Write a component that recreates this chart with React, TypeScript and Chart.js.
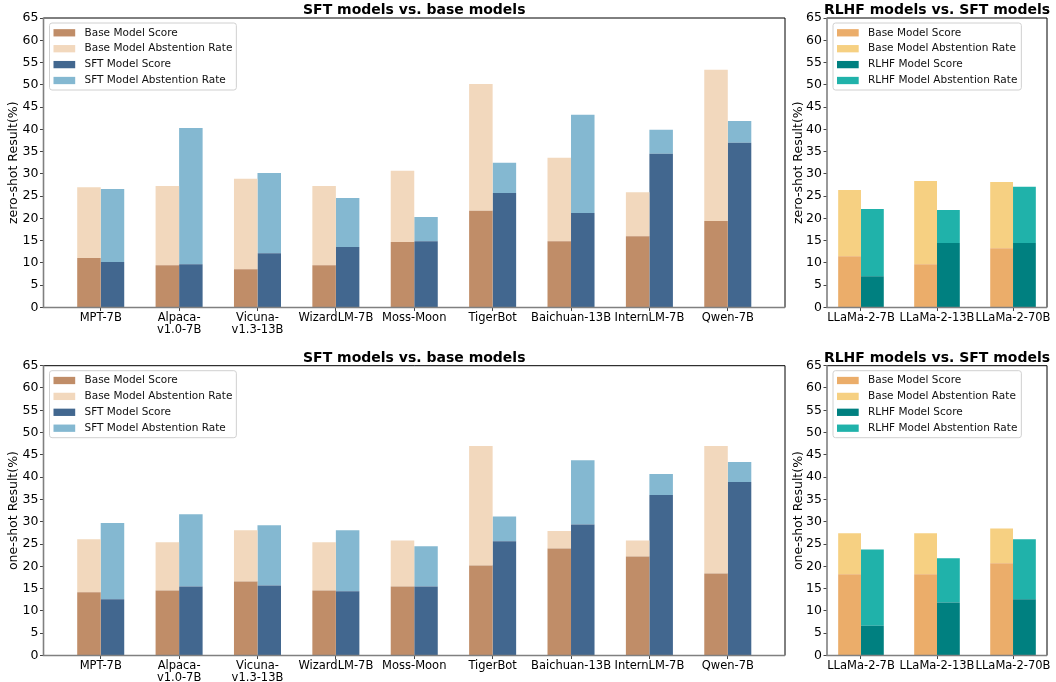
import React, { useEffect, useRef } from "react";
import { Chart, registerables } from "chart.js";

Chart.register(...registerables);
Chart.defaults.font.family = '"DejaVu Sans", sans-serif';

// ---------- categories ----------
const sftModels = [
  "MPT-7B",
  "Alpaca-\nv1.0-7B",
  "Vicuna-\nv1.3-13B",
  "WizardLM-7B",
  "Moss-Moon",
  "TigerBot",
  "Baichuan-13B",
  "InternLM-7B",
  "Qwen-7B",
];
const rlhfModels = ["LLaMa-2-7B", "LLaMa-2-13B", "LLaMa-2-70B"];
const yTickStep = 5;
const yMax = 65;

// ---------- zero-shot, SFT vs base ----------
const zsBaseScore = [11.1, 9.5, 8.6, 9.5, 14.7, 21.7, 14.9, 16.0, 19.4];
const zsBaseAbstention = [15.9, 17.8, 20.3, 17.8, 16.0, 28.5, 18.7, 9.9, 34.0];
const zsSftScore = [10.2, 9.7, 12.2, 13.6, 14.9, 25.7, 21.2, 34.5, 37.0];
const zsSftAbstention = [16.4, 30.6, 18.0, 11.0, 5.4, 6.8, 22.1, 5.4, 4.9];

// ---------- zero-shot, RLHF vs SFT ----------
const zsLlamaBaseScore = [11.5, 9.7, 13.3];
const zsLlamaBaseAbstention = [14.9, 18.7, 14.9];
const zsRlhfScore = [7.0, 14.5, 14.5];
const zsRlhfAbstention = [15.1, 7.4, 12.6];

// ---------- one-shot, SFT vs base ----------
const osBaseScore = [14.2, 14.6, 16.6, 14.6, 15.5, 20.2, 24.0, 22.2, 18.4];
const osBaseAbstention = [11.9, 10.8, 11.5, 10.8, 10.3, 26.8, 3.9, 3.6, 28.6];
const osSftScore = [12.6, 15.5, 15.7, 14.4, 15.5, 25.6, 29.4, 36.0, 38.9];
const osSftAbstention = [17.1, 16.2, 13.5, 13.7, 9.0, 5.6, 14.4, 4.7, 4.5];

// ---------- one-shot, RLHF vs SFT ----------
const osLlamaBaseScore = [18.2, 18.2, 20.7];
const osLlamaBaseAbstention = [9.2, 9.2, 7.8];
const osRlhfScore = [6.7, 11.9, 12.6];
const osRlhfAbstention = [17.1, 9.9, 13.5];

// ---------- colours ----------
const C_BASE_SCORE = "#C08D68";
const C_BASE_ABST = "#F2D8BD";
const C_SFT_SCORE = "#42678F";
const C_SFT_ABST = "#84B8D1";
const C_LB_SCORE = "#EBAD6A";
const C_LB_ABST = "#F6D082";
const C_RLHF_SCORE = "#008080";
const C_RLHF_ABST = "#20B2AA";

type Series = { label: string; values: number[]; color: string; stack: string };
type Spec = {
  canvas: { x: number; y: number; w: number; h: number };
  area: { l: number; t: number; r: number; b: number };
  margin: number;
  categories: string[];
  series: Series[];
  title: string;
  ylabel: string;
  ylabelX: number;
};

function Panel({ spec }: { spec: Spec }) {
  const ref = useRef<HTMLCanvasElement>(null);
  useEffect(() => {
    const { canvas, area, categories, series } = spec;
    const padTop = area.t - canvas.y;
    const padRight = canvas.x + canvas.w - area.r;
    const yW = area.l - canvas.x;
    const xH = canvas.y + canvas.h - area.b;

    const decor = {
      id: "decor",
      afterDraw(chart: any) {
        const ctx = chart.ctx as CanvasRenderingContext2D;
        const a = chart.chartArea;
        ctx.save();
        // spines
        ctx.strokeStyle = "#000";
        ctx.lineWidth = 1;
        ctx.beginPath();
        ctx.moveTo(a.left, a.top);
        ctx.lineTo(a.right, a.top);
        ctx.lineTo(a.right, a.bottom);
        ctx.stroke();
        ctx.strokeStyle = "#808080";
        ctx.lineWidth = 1.6;
        ctx.beginPath();
        ctx.moveTo(a.left, a.top - 0.5);
        ctx.lineTo(a.left, a.bottom);
        ctx.lineTo(a.right, a.bottom);
        ctx.stroke();
        // title
        ctx.fillStyle = "#000";
        ctx.font = 'bold 14px "DejaVu Sans"';
        ctx.textAlign = "center";
        ctx.textBaseline = "alphabetic";
        ctx.fillText(spec.title, (a.left + a.right) / 2, a.top - 3.6);
        // y label
        ctx.save();
        ctx.translate(spec.ylabelX, (a.top + a.bottom) / 2);
        ctx.rotate(-Math.PI / 2);
        ctx.font = '12.5px "DejaVu Sans"';
        ctx.textBaseline = "middle";
        ctx.fillText(spec.ylabel, 0, 0);
        ctx.restore();
        // legend
        const items = chart.data.datasets.map((d: any) => ({ label: d.label, color: d.backgroundColor }));
        ctx.font = '10.5px "DejaVu Sans"';
        const maxW = Math.max(...items.map((it: any) => ctx.measureText(it.label).width));
        const bx = a.left + 6;
        const by = a.top + 5;
        const bw = 35 + maxW + 4;
        const bh = 67;
        ctx.beginPath();
        if ((ctx as any).roundRect) (ctx as any).roundRect(bx, by, bw, bh, 2.5);
        else ctx.rect(bx, by, bw, bh);
        ctx.fillStyle = "rgba(255,255,255,0.8)";
        ctx.fill();
        ctx.strokeStyle = "#d0d0d0";
        ctx.lineWidth = 1;
        ctx.stroke();
        ctx.textAlign = "left";
        ctx.textBaseline = "middle";
        items.forEach((it: any, i: number) => {
          const cy = by + 9.8 + i * 15.9;
          ctx.fillStyle = it.color;
          ctx.fillRect(bx + 4, cy - 3.65, 21.7, 7.3);
          ctx.fillStyle = "#111";
          ctx.fillText(it.label, bx + 35, cy);
        });
        ctx.restore();
      },
    };

    const chart = new Chart(ref.current as HTMLCanvasElement, {
      type: "bar",
      data: {
        datasets: series.map((s) => ({
          label: s.label,
          data: s.values.map((v, i) => ({ x: i, y: v })),
          backgroundColor: s.color,
          stack: s.stack,
          borderWidth: 0,
          categoryPercentage: 0.6,
          barPercentage: 1.0,
        })),
      },
      options: {
        animation: false,
        responsive: false,
        devicePixelRatio: 1,
        layout: { padding: { left: 0, top: padTop, right: padRight, bottom: 0 } },
        plugins: {
          legend: { display: false },
          tooltip: { enabled: false },
          title: { display: false },
        },
        scales: {
          x: {
            type: "linear",
            offset: false,
            min: -spec.margin,
            max: categories.length - 1 + spec.margin,
            afterBuildTicks: (s: any) => {
              s.ticks = categories.map((_, i) => ({ value: i }));
            },
            afterFit: (s: any) => {
              s.height = xH;
            },
            grid: {
              display: true,
              offset: false,
              drawOnChartArea: false,
              drawTicks: true,
              tickLength: 3.5,
              color: "#444",
              lineWidth: 1,
            },
            border: { display: false },
            ticks: {
              autoSkip: false,
              maxRotation: 0,
              minRotation: 0,
              padding: 0.5,
              color: "#000",
              font: { size: 11.5, lineHeight: 1.1 },
              callback: (v: any) => {
                const l = categories[Math.round(v)];
                return l ? l.split("\n") : "";
              },
            },
          },
          y: {
            type: "linear",
            stacked: true,
            min: 0,
            max: yMax,
            afterFit: (s: any) => {
              s.width = yW;
            },
            ticks: { stepSize: yTickStep, padding: 1.5, color: "#000", font: { size: 12.5 } },
            grid: {
              display: true,
              drawOnChartArea: false,
              drawTicks: true,
              tickLength: 3.5,
              color: "#444",
              lineWidth: 1,
            },
            border: { display: false },
          },
        },
      } as any,
      plugins: [decor as any],
    });
    return () => chart.destroy();
  }, [spec]);
  return (
    <canvas
      ref={ref}
      width={spec.canvas.w}
      height={spec.canvas.h}
      style={{
        position: "absolute",
        left: spec.canvas.x,
        top: spec.canvas.y,
        width: spec.canvas.w,
        height: spec.canvas.h,
      }}
    />
  );
}

const sftSeries = (bs: number[], ba: number[], ss: number[], sa: number[]): Series[] => [
  { label: "Base Model Score", values: bs, color: C_BASE_SCORE, stack: "base" },
  { label: "Base Model Abstention Rate", values: ba, color: C_BASE_ABST, stack: "base" },
  { label: "SFT Model Score", values: ss, color: C_SFT_SCORE, stack: "sft" },
  { label: "SFT Model Abstention Rate", values: sa, color: C_SFT_ABST, stack: "sft" },
];
const rlhfSeries = (bs: number[], ba: number[], rs: number[], ra: number[]): Series[] => [
  { label: "Base Model Score", values: bs, color: C_LB_SCORE, stack: "base" },
  { label: "Base Model Abstention Rate", values: ba, color: C_LB_ABST, stack: "base" },
  { label: "RLHF Model Score", values: rs, color: C_RLHF_SCORE, stack: "rlhf" },
  { label: "RLHF Model Abstention Rate", values: ra, color: C_RLHF_ABST, stack: "rlhf" },
];

const specs: Spec[] = [
  {
    canvas: { x: 0, y: 0, w: 790, h: 340 },
    area: { l: 43.5, t: 18, r: 785, b: 307.5 },
    margin: 0.73,
    categories: sftModels,
    series: sftSeries(zsBaseScore, zsBaseAbstention, zsSftScore, zsSftAbstention),
    title: "SFT models vs. base models",
    ylabel: "zero-shot Result(%)",
    ylabelX: 14,
  },
  {
    canvas: { x: 786, y: 0, w: 270, h: 340 },
    area: { l: 827, t: 18, r: 1047, b: 307.5 },
    margin: 0.447,
    categories: rlhfModels,
    series: rlhfSeries(zsLlamaBaseScore, zsLlamaBaseAbstention, zsRlhfScore, zsRlhfAbstention),
    title: "RLHF models vs. SFT models",
    ylabel: "zero-shot Result(%)",
    ylabelX: 12.5,
  },
  {
    canvas: { x: 0, y: 340, w: 790, h: 342 },
    area: { l: 43.5, t: 365.7, r: 785, b: 655.5 },
    margin: 0.73,
    categories: sftModels,
    series: sftSeries(osBaseScore, osBaseAbstention, osSftScore, osSftAbstention),
    title: "SFT models vs. base models",
    ylabel: "one-shot Result(%)",
    ylabelX: 14,
  },
  {
    canvas: { x: 786, y: 340, w: 270, h: 342 },
    area: { l: 827, t: 365.7, r: 1047, b: 655.5 },
    margin: 0.447,
    categories: rlhfModels,
    series: rlhfSeries(osLlamaBaseScore, osLlamaBaseAbstention, osRlhfScore, osRlhfAbstention),
    title: "RLHF models vs. SFT models",
    ylabel: "one-shot Result(%)",
    ylabelX: 12.5,
  },
];

export default function App() {
  return (
    <div
      style={{
        position: "absolute",
        left: 0,
        top: 0,
        width: 1056,
        height: 682,
        background: "#fff",
        overflow: "hidden",
      }}
    >
      {specs.map((s, i) => (
        <Panel key={i} spec={s} />
      ))}
    </div>
  );
}
